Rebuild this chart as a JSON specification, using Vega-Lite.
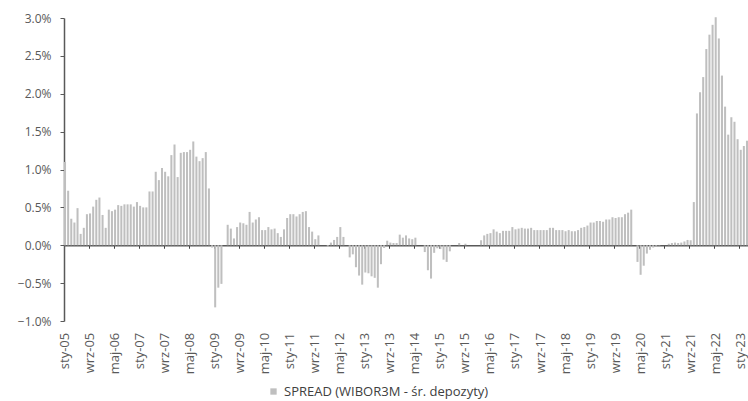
{
  "$schema": "https://vega.github.io/schema/vega-lite/v6.json",
  "width": 684,
  "height": 303,
  "autosize": {"type": "none"},
  "padding": {"left": 64, "top": 18, "right": 0, "bottom": 80},
  "background": "white",
  "config": {"view": {"stroke": null}, "font": "Open Sans"},
  "data": {"values": [
    {"m":"sty-05","v":1.10},{"m":"lut-05","v":0.72},{"m":"mar-05","v":0.35},{"m":"kwi-05","v":0.30},{"m":"maj-05","v":0.49},{"m":"cze-05","v":0.15},{"m":"lip-05","v":0.23},{"m":"sie-05","v":0.41},{"m":"wrz-05","v":0.42},{"m":"paź-05","v":0.51},{"m":"lis-05","v":0.60},{"m":"gru-05","v":0.63},
    {"m":"sty-06","v":0.40},{"m":"lut-06","v":0.23},{"m":"mar-06","v":0.47},{"m":"kwi-06","v":0.45},{"m":"maj-06","v":0.47},{"m":"cze-06","v":0.53},{"m":"lip-06","v":0.52},{"m":"sie-06","v":0.54},{"m":"wrz-06","v":0.54},{"m":"paź-06","v":0.54},{"m":"lis-06","v":0.51},{"m":"gru-06","v":0.57},
    {"m":"sty-07","v":0.52},{"m":"lut-07","v":0.50},{"m":"mar-07","v":0.50},{"m":"kwi-07","v":0.71},{"m":"maj-07","v":0.71},{"m":"cze-07","v":0.97},{"m":"lip-07","v":0.86},{"m":"sie-07","v":1.02},{"m":"wrz-07","v":0.97},{"m":"paź-07","v":0.91},{"m":"lis-07","v":1.19},{"m":"gru-07","v":1.33},
    {"m":"sty-08","v":0.90},{"m":"lut-08","v":1.22},{"m":"mar-08","v":1.23},{"m":"kwi-08","v":1.23},{"m":"maj-08","v":1.26},{"m":"cze-08","v":1.37},{"m":"lip-08","v":1.17},{"m":"sie-08","v":1.11},{"m":"wrz-08","v":1.15},{"m":"paź-08","v":1.23},{"m":"lis-08","v":0.75},{"m":"gru-08","v":-0.03},
    {"m":"sty-09","v":-0.82},{"m":"lut-09","v":-0.56},{"m":"mar-09","v":-0.51},{"m":"kwi-09","v":0},{"m":"maj-09","v":0.27},{"m":"cze-09","v":0.22},{"m":"lip-09","v":0.09},{"m":"sie-09","v":0.24},{"m":"wrz-09","v":0.30},{"m":"paź-09","v":0.29},{"m":"lis-09","v":0.27},{"m":"gru-09","v":0.44},
    {"m":"sty-10","v":0.30},{"m":"lut-10","v":0.34},{"m":"mar-10","v":0.37},{"m":"kwi-10","v":0.20},{"m":"maj-10","v":0.20},{"m":"cze-10","v":0.24},{"m":"lip-10","v":0.21},{"m":"sie-10","v":0.22},{"m":"wrz-10","v":0.16},{"m":"paź-10","v":0.11},{"m":"lis-10","v":0.21},{"m":"gru-10","v":0.36},
    {"m":"sty-11","v":0.41},{"m":"lut-11","v":0.41},{"m":"mar-11","v":0.38},{"m":"kwi-11","v":0.41},{"m":"maj-11","v":0.44},{"m":"cze-11","v":0.45},{"m":"lip-11","v":0.24},{"m":"sie-11","v":0.18},{"m":"wrz-11","v":0.08},{"m":"paź-11","v":0.13},{"m":"lis-11","v":0},{"m":"gru-11","v":0},
    {"m":"sty-12","v":-0.02},{"m":"lut-12","v":0.035},{"m":"mar-12","v":0.07},{"m":"kwi-12","v":0.11},{"m":"maj-12","v":0.24},{"m":"cze-12","v":0.11},{"m":"lip-12","v":0},{"m":"sie-12","v":-0.16},{"m":"wrz-12","v":-0.12},{"m":"paź-12","v":-0.29},{"m":"lis-12","v":-0.40},{"m":"gru-12","v":-0.52},
    {"m":"sty-13","v":-0.36},{"m":"lut-13","v":-0.37},{"m":"mar-13","v":-0.41},{"m":"kwi-13","v":-0.43},{"m":"maj-13","v":-0.56},{"m":"cze-13","v":-0.25},{"m":"lip-13","v":-0.035},{"m":"sie-13","v":0.06},{"m":"wrz-13","v":0.035},{"m":"paź-13","v":0.03},{"m":"lis-13","v":0.03},{"m":"gru-13","v":0.14},
    {"m":"sty-14","v":0.10},{"m":"lut-14","v":0.13},{"m":"mar-14","v":0.09},{"m":"kwi-14","v":0.08},{"m":"maj-14","v":0.10},{"m":"cze-14","v":0},{"m":"lip-14","v":0},{"m":"sie-14","v":-0.09},{"m":"wrz-14","v":-0.33},{"m":"paź-14","v":-0.44},{"m":"lis-14","v":-0.10},{"m":"gru-14","v":-0.04},
    {"m":"sty-15","v":-0.05},{"m":"lut-15","v":-0.19},{"m":"mar-15","v":-0.22},{"m":"kwi-15","v":-0.08},{"m":"maj-15","v":0},{"m":"cze-15","v":0},{"m":"lip-15","v":0.03},{"m":"sie-15","v":0},{"m":"wrz-15","v":0.02},{"m":"paź-15","v":0},{"m":"lis-15","v":0},{"m":"gru-15","v":0},
    {"m":"sty-16","v":0},{"m":"lut-16","v":0.066},{"m":"mar-16","v":0.13},{"m":"kwi-16","v":0.15},{"m":"maj-16","v":0.16},{"m":"cze-16","v":0.21},{"m":"lip-16","v":0.18},{"m":"sie-16","v":0.16},{"m":"wrz-16","v":0.19},{"m":"paź-16","v":0.19},{"m":"lis-16","v":0.19},{"m":"gru-16","v":0.24},
    {"m":"sty-17","v":0.21},{"m":"lut-17","v":0.22},{"m":"mar-17","v":0.23},{"m":"kwi-17","v":0.22},{"m":"maj-17","v":0.22},{"m":"cze-17","v":0.23},{"m":"lip-17","v":0.20},{"m":"sie-17","v":0.20},{"m":"wrz-17","v":0.20},{"m":"paź-17","v":0.20},{"m":"lis-17","v":0.20},{"m":"gru-17","v":0.23},
    {"m":"sty-18","v":0.23},{"m":"lut-18","v":0.20},{"m":"mar-18","v":0.20},{"m":"kwi-18","v":0.20},{"m":"maj-18","v":0.185},{"m":"cze-18","v":0.20},{"m":"lip-18","v":0.185},{"m":"sie-18","v":0.185},{"m":"wrz-18","v":0.20},{"m":"paź-18","v":0.23},{"m":"lis-18","v":0.24},{"m":"gru-18","v":0.26},
    {"m":"sty-19","v":0.30},{"m":"lut-19","v":0.30},{"m":"mar-19","v":0.32},{"m":"kwi-19","v":0.32},{"m":"maj-19","v":0.31},{"m":"cze-19","v":0.34},{"m":"lip-19","v":0.34},{"m":"sie-19","v":0.37},{"m":"wrz-19","v":0.36},{"m":"paź-19","v":0.37},{"m":"lis-19","v":0.37},{"m":"gru-19","v":0.41},
    {"m":"sty-20","v":0.43},{"m":"lut-20","v":0.47},{"m":"mar-20","v":0},{"m":"kwi-20","v":-0.22},{"m":"maj-20","v":-0.39},{"m":"cze-20","v":-0.27},{"m":"lip-20","v":-0.11},{"m":"sie-20","v":-0.06},{"m":"wrz-20","v":-0.03},{"m":"paź-20","v":-0.015},{"m":"lis-20","v":-0.005},{"m":"gru-20","v":0},
    {"m":"sty-21","v":0},{"m":"lut-21","v":0.02},{"m":"mar-21","v":0.03},{"m":"kwi-21","v":0.035},{"m":"maj-21","v":0.03},{"m":"cze-21","v":0.035},{"m":"lip-21","v":0.05},{"m":"sie-21","v":0.07},{"m":"wrz-21","v":0.066},{"m":"paź-21","v":0.57},{"m":"lis-21","v":1.74},{"m":"gru-21","v":2.02},
    {"m":"sty-22","v":2.22},{"m":"lut-22","v":2.59},{"m":"mar-22","v":2.78},{"m":"kwi-22","v":2.91},{"m":"maj-22","v":3.01},{"m":"cze-22","v":2.73},{"m":"lip-22","v":2.24},{"m":"sie-22","v":1.83},{"m":"wrz-22","v":1.46},{"m":"paź-22","v":1.69},{"m":"lis-22","v":1.63},{"m":"gru-22","v":1.40},
    {"m":"sty-23","v":1.26},{"m":"lut-23","v":1.31},{"m":"mar-23","v":1.38}
  ]},
  "mark": {"type": "bar"},
  "encoding": {
    "x": {
      "field": "m", "type": "ordinal", "sort": null,
      "scale": {"paddingInner": 0.35, "paddingOuter": 0},
      "axis": {
        "title": null,
        "orient": "bottom",
        "offset": -75.75,
        "bandPosition": 0,
        "values": ["sty-05","wrz-05","maj-06","sty-07","wrz-07","maj-08","sty-09","wrz-09","maj-10","sty-11","wrz-11","maj-12","sty-13","wrz-13","maj-14","sty-15","wrz-15","maj-16","sty-17","wrz-17","maj-18","sty-19","wrz-19","maj-20","sty-21","wrz-21","maj-22","sty-23"],
        "labelAngle": -90,
        "labelPadding": 84,
        "labelFontSize": 13,
        "labelColor": "#595959",
        "domainColor": "#595959",
        "domainWidth": 1.5,
        "tickColor": "#404040",
        "tickSize": 3,
        "tickWidth": 1,
        "grid": false
      }
    },
    "y": {
      "field": "v", "type": "quantitative",
      "scale": {"domain": [-1, 3], "nice": false, "zero": true},
      "axis": {
        "title": null,
        "values": [-1, -0.5, 0, 0.5, 1, 1.5, 2, 2.5, 3],
        "labelExpr": "format(datum.value, '.1f') + '%'",
        "labelFontSize": 12,
        "labelColor": "#595959",
        "labelPadding": 9,
        "domainColor": "#595959",
        "domainWidth": 1.5,
        "tickColor": "#595959",
        "tickSize": 4,
        "grid": false
      }
    },
    "color": {
      "datum": "SPREAD (WIBOR3M - śr. depozyty)",
      "scale": {"range": ["#bfbfbf"]},
      "legend": {
        "title": null,
        "orient": "none",
        "legendX": 203,
        "legendY": 367,
        "symbolType": "square",
        "symbolSize": 40,
        "labelFontSize": 13,
        "labelLimit": 0,
        "labelColor": "#404040"
      }
    }
  }
}
